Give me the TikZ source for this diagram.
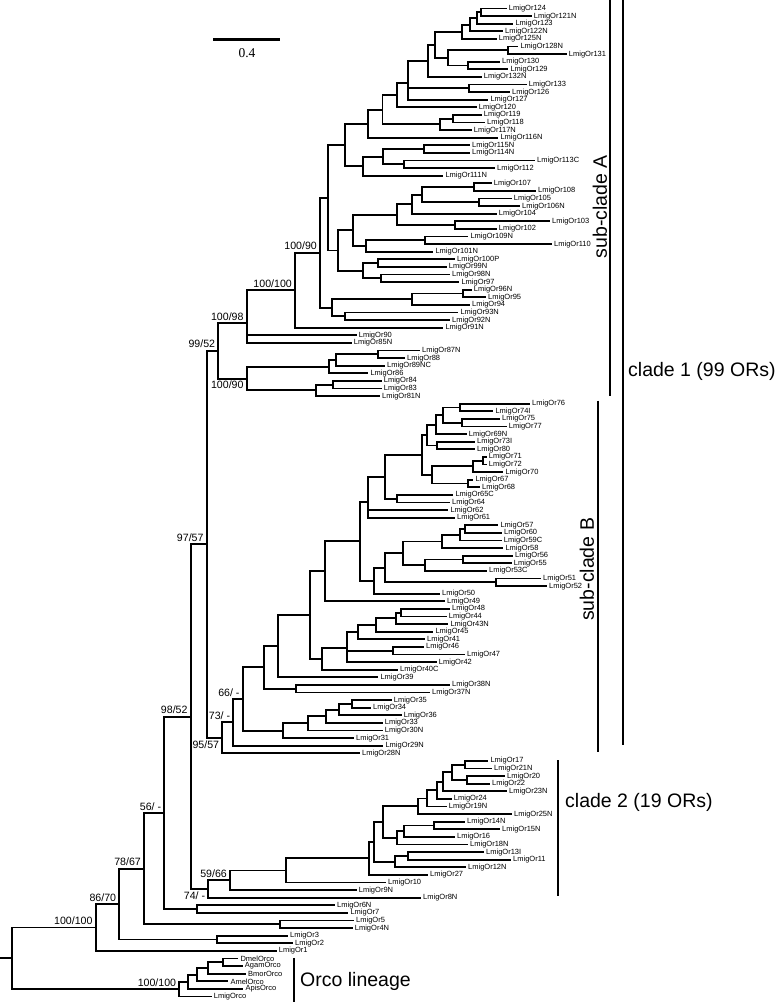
\documentclass[tikz,border=0pt]{standalone}
\usepackage{fontspec}
\setmainfont{Liberation Sans}
\newfontfamily\scalefont{Liberation Serif}
\newcommand{\leaffont}{\fontsize{7.5}{8}\selectfont}
\newcommand{\bsfont}{\fontsize{10.6}{11}\selectfont}
\newcommand{\cladefont}{\fontsize{19.5}{20}\selectfont}
% parent |- each child
\newcommand{\kids}[2]{\foreach \kid in {#2}{\draw[br] (#1) |- (\kid);}}

\begin{document}
\begin{tikzpicture}[
    x=1pt, y=-7.6pt,
    br/.style={line width=1.9pt},
    leaf/.style={anchor=west, inner xsep=2pt, inner ysep=0pt, font=\leaffont},
    bs/.style={font=\bsfont, inner sep=0pt},
    bsup/.style={bs, anchor=south east, xshift=-3pt, yshift=2.5pt},
    bsdown/.style={bs, anchor=north east, xshift=-3pt, yshift=-2.5pt},
    bar/.style={line width=2pt},
    cladelabel/.style={font=\cladefont, inner sep=0pt}
]
\useasboundingbox (0,-0.118) rectangle (777,131.72);

% leaves: x = tip of branch, y = row
\node[leaf] (or124) at (506.7,1) {LmigOr124};
\node[leaf] (or121N) at (531.7,2) {LmigOr121N};
\node[leaf] (or123) at (513.3,3) {LmigOr123};
\node[leaf] (or122N) at (503,4) {LmigOr122N};
\node[leaf] (or125N) at (496.7,5) {LmigOr125N};
\node[leaf] (or128N) at (518.3,6) {LmigOr128N};
\node[leaf] (or131) at (566.7,7) {LmigOr131};
\node[leaf] (or130) at (500,8) {LmigOr130};
\node[leaf] (or129) at (508.3,9) {LmigOr129};
\node[leaf] (or132N) at (481.7,10) {LmigOr132N};
\node[leaf] (or133) at (526.7,11) {LmigOr133};
\node[leaf] (or126) at (510,12) {LmigOr126};
\node[leaf] (or127) at (488.3,13) {LmigOr127};
\node[leaf] (or120) at (476.7,14) {LmigOr120};
\node[leaf] (or119) at (481.7,15) {LmigOr119};
\node[leaf] (or118) at (485,16) {LmigOr118};
\node[leaf] (or117N) at (471.7,17) {LmigOr117N};
\node[leaf] (or116N) at (498.3,18) {LmigOr116N};
\node[leaf] (or115N) at (470,19) {LmigOr115N};
\node[leaf] (or114N) at (470,20) {LmigOr114N};
\node[leaf] (or113C) at (535,21) {LmigOr113C};
\node[leaf] (or112) at (495,22) {LmigOr112};
\node[leaf] (or111N) at (443.3,23) {LmigOr111N};
\node[leaf] (or107) at (491.7,24) {LmigOr107};
\node[leaf] (or108) at (536,25) {LmigOr108};
\node[leaf] (or105) at (511.7,26) {LmigOr105};
\node[leaf] (or106N) at (520,27) {LmigOr106N};
\node[leaf] (or104) at (496.7,28) {LmigOr104};
\node[leaf] (or103) at (550,29) {LmigOr103};
\node[leaf] (or102) at (496.7,30) {LmigOr102};
\node[leaf] (or109N) at (468.3,31) {LmigOr109N};
\node[leaf] (or110) at (552,32) {LmigOr110};
\node[leaf] (or101N) at (433.3,33) {LmigOr101N};
\node[leaf] (or100P) at (455,34) {LmigOr100P};
\node[leaf] (or99N) at (446.7,35) {LmigOr99N};
\node[leaf] (or98N) at (450,36) {LmigOr98N};
\node[leaf] (or97) at (459.3,37) {LmigOr97};
\node[leaf] (or96N) at (471.7,38) {LmigOr96N};
\node[leaf] (or95) at (486,39) {LmigOr95};
\node[leaf] (or94) at (470,40) {LmigOr94};
\node[leaf] (or93N) at (458.3,41) {LmigOr93N};
\node[leaf] (or92N) at (450,42) {LmigOr92N};
\node[leaf] (or91N) at (443.3,43) {LmigOr91N};
\node[leaf] (or90) at (356.7,44) {LmigOr90};
\node[leaf] (or85N) at (351.7,45) {LmigOr85N};
\node[leaf] (or87N) at (420,46) {LmigOr87N};
\node[leaf] (or88) at (405,47) {LmigOr88};
\node[leaf] (or89NC) at (385,48) {LmigOr89NC};
\node[leaf] (or86) at (368.3,49) {LmigOr86};
\node[leaf] (or84) at (381.7,50) {LmigOr84};
\node[leaf] (or83) at (381.7,51) {LmigOr83};
\node[leaf] (or81N) at (380,52) {LmigOr81N};
\node[leaf] (or76) at (530,53) {LmigOr76};
\node[leaf] (or74I) at (493.3,54) {LmigOr74I};
\node[leaf] (or75) at (500,55) {LmigOr75};
\node[leaf] (or77) at (506.7,56) {LmigOr77};
\node[leaf] (or69N) at (466.7,57) {LmigOr69N};
\node[leaf] (or73I) at (475,58) {LmigOr73I};
\node[leaf] (or80) at (475,59) {LmigOr80};
\node[leaf] (or71) at (486.7,60) {LmigOr71};
\node[leaf] (or72) at (486.7,61) {LmigOr72};
\node[leaf] (or70) at (503.3,62) {LmigOr70};
\node[leaf] (or67) at (473.3,63) {LmigOr67};
\node[leaf] (or68) at (480,64) {LmigOr68};
\node[leaf] (or65C) at (453.3,65) {LmigOr65C};
\node[leaf] (or64) at (450,66) {LmigOr64};
\node[leaf] (or62) at (448.3,67) {LmigOr62};
\node[leaf] (or61) at (455,68) {LmigOr61};
\node[leaf] (or57) at (498.3,69) {LmigOr57};
\node[leaf] (or60) at (502,70) {LmigOr60};
\node[leaf] (or59C) at (501.7,71) {LmigOr59C};
\node[leaf] (or58) at (503.3,72) {LmigOr58};
\node[leaf] (or56) at (513,73) {LmigOr56};
\node[leaf] (or55) at (511.7,74) {LmigOr55};
\node[leaf] (or53C) at (487,75) {LmigOr53C};
\node[leaf] (or51) at (541,76) {LmigOr51};
\node[leaf] (or52) at (547,77) {LmigOr52};
\node[leaf] (or50) at (440,78) {LmigOr50};
\node[leaf] (or49) at (445,79) {LmigOr49};
\node[leaf] (or48) at (450,80) {LmigOr48};
\node[leaf] (or44) at (446.7,81) {LmigOr44};
\node[leaf] (or43N) at (448.3,82) {LmigOr43N};
\node[leaf] (or45) at (433.3,83) {LmigOr45};
\node[leaf] (or41) at (425,84) {LmigOr41};
\node[leaf] (or46) at (424,85) {LmigOr46};
\node[leaf] (or47) at (465,86) {LmigOr47};
\node[leaf] (or42) at (436.7,87) {LmigOr42};
\node[leaf] (or40C) at (398,88) {LmigOr40C};
\node[leaf] (or39) at (378.3,89) {LmigOr39};
\node[leaf] (or38N) at (450,90) {LmigOr38N};
\node[leaf] (or37N) at (430,91) {LmigOr37N};
\node[leaf] (or35) at (391.7,92) {LmigOr35};
\node[leaf] (or34) at (371,93) {LmigOr34};
\node[leaf] (or36) at (401.7,94) {LmigOr36};
\node[leaf] (or33) at (382.7,95) {LmigOr33};
\node[leaf] (or30N) at (382.7,96) {LmigOr30N};
\node[leaf] (or31) at (354,97) {LmigOr31};
\node[leaf] (or29N) at (383.3,98) {LmigOr29N};
\node[leaf] (or28N) at (360,99) {LmigOr28N};
\node[leaf] (or17) at (488.3,100) {LmigOr17};
\node[leaf] (or21N) at (492,101) {LmigOr21N};
\node[leaf] (or20) at (505,102) {LmigOr20};
\node[leaf] (or22) at (490,103) {LmigOr22};
\node[leaf] (or23N) at (507,104) {LmigOr23N};
\node[leaf] (or24) at (451.7,105) {LmigOr24};
\node[leaf] (or19N) at (446.7,106) {LmigOr19N};
\node[leaf] (or25N) at (512,107) {LmigOr25N};
\node[leaf] (or14N) at (465,108) {LmigOr14N};
\node[leaf] (or15N) at (500,109) {LmigOr15N};
\node[leaf] (or16) at (455,110) {LmigOr16};
\node[leaf] (or18N) at (468,111) {LmigOr18N};
\node[leaf] (or13I) at (484,112) {LmigOr13I};
\node[leaf] (or11) at (511,113) {LmigOr11};
\node[leaf] (or12N) at (466,114) {LmigOr12N};
\node[leaf] (or27) at (428,115) {LmigOr27};
\node[leaf] (or10) at (386,116) {LmigOr10};
\node[leaf] (or9N) at (356.7,117) {LmigOr9N};
\node[leaf] (or8N) at (421,118) {LmigOr8N};
\node[leaf] (or6N) at (335,119) {LmigOr6N};
\node[leaf] (or7) at (348.3,120) {LmigOr7};
\node[leaf] (or5) at (354,121) {LmigOr5};
\node[leaf] (or4N) at (352.7,122) {LmigOr4N};
\node[leaf] (or3) at (288,123) {LmigOr3};
\node[leaf] (or2) at (293,124) {LmigOr2};
\node[leaf] (or1) at (276.7,125) {LmigOr1};
\node[leaf] (dmel) at (238.3,126) {DmelOrco};
\node[leaf] (agam) at (242.7,127) {AgamOrco};
\node[leaf] (bmor) at (246,128) {BmorOrco};
\node[leaf] (amel) at (228.3,129) {AmelOrco};
\node[leaf] (apis) at (243.3,130) {ApisOrco};
\node[leaf] (lmigorco) at (211.7,131) {LmigOrco};

% inner nodes of sub-clade A
\coordinate (a1) at (481,1.5);
\coordinate (a2) at (476.7,2.25);
\coordinate (a3) at (470,3.13);
\coordinate (a4) at (461.7,4.06);
\coordinate (a5) at (508.3,6.5);
\coordinate (a6) at (468.3,8.5);
\coordinate (a7) at (448.3,7.5);
\coordinate (a8) at (435,5.78);
\coordinate (a9) at (428.3,7.89);
\coordinate (a10) at (469.3,11.5);
\coordinate (a11) at (407.7,10.8);
\coordinate (a12) at (397.3,12.4);
\coordinate (a15) at (453.3,15.5);
\coordinate (a14) at (440,16.25);
\coordinate (a13) at (382.5,14.33);
\coordinate (a16) at (368.3,16.16);
\coordinate (b2) at (424,19.5);
\coordinate (b3) at (404,21.5);
\coordinate (b4) at (382.7,20.5);
\coordinate (b1) at (362.7,21.75);
\coordinate (bB) at (345,18.96);
\coordinate (c1) at (474.3,24.5);
\coordinate (c2) at (479.3,26.5);
\coordinate (c3) at (421.7,25.5);
\coordinate (c4) at (411.7,26.75);
\coordinate (c5) at (455,29.5);
\coordinate (c6) at (396.7,28.13);
\coordinate (c7) at (425,31.5);
\coordinate (c8) at (366,32.25);
\coordinate (c9) at (353.3,30.19);
\coordinate (h1) at (378.3,34.5);
\coordinate (h2) at (381,36.5);
\coordinate (h3) at (363.3,35.5);
\coordinate (c10) at (338.3,32.84);
\coordinate (dD) at (328.3,25.9);
\coordinate (e1) at (462.7,38.5);
\coordinate (e2) at (412.3,39.25);
\coordinate (e3) at (345,41.5);
\coordinate (eE) at (331.7,40.38);
\coordinate (n10090) at (320,33.14);
\coordinate (n100100) at (295,38.07);
\coordinate (n10098) at (246.7,42.36);
\coordinate (w1) at (377.7,46.5);
\coordinate (w2) at (336,47.25);
\coordinate (w3) at (329.3,48.13);
\coordinate (w4) at (333.3,50.5);
\coordinate (w5) at (316,51.25);
\coordinate (n10090b) at (246.7,49.69);
\coordinate (n9952) at (218.3,46.02);

% inner nodes of sub-clade B
\coordinate (s1) at (460,53.5);
\coordinate (s2) at (461.7,55.5);
\coordinate (s3) at (443.3,54.5);
\coordinate (s4) at (436,55.75);
\coordinate (s5) at (436.7,58.5);
\coordinate (s6) at (426.7,57.13);
\coordinate (s7) at (482.7,60.5);
\coordinate (s8) at (472.7,61.25);
\coordinate (s9) at (468.3,63.5);
\coordinate (s10) at (431.7,62.38);
\coordinate (s11) at (421.7,59.75);
\coordinate (s12) at (396.7,65.5);
\coordinate (s13) at (385,62.63);
\coordinate (s14) at (368.3,65.88);
\coordinate (q1) at (465,69.5);
\coordinate (q2) at (460,70.25);
\coordinate (q3) at (441.7,71.13);
\coordinate (q4) at (463.3,73.5);
\coordinate (q5) at (425,74.25);
\coordinate (q6) at (403.3,72.69);
\coordinate (q7) at (496,76.5);
\coordinate (q8) at (385,74.59);
\coordinate (q9) at (374,76.3);
\coordinate (n360) at (360,71.09);
\coordinate (n325) at (325,75.04);
\coordinate (t1) at (401,80.5);
\coordinate (t2) at (395.7,81.25);
\coordinate (t3) at (375.7,82.13);
\coordinate (t4) at (358.3,83.06);
\coordinate (t5) at (393.3,85.5);
\coordinate (t6) at (346.7,85.19);
\coordinate (t7) at (321.7,86.6);
\coordinate (n310) at (310,80.82);
\coordinate (n278) at (278.3,84.91);
\coordinate (u1) at (295.7,90.5);
\coordinate (n265) at (264.3,87.7);
\coordinate (v1) at (351.7,92.5);
\coordinate (v2) at (339.3,93.25);
\coordinate (v3) at (326,94.13);
\coordinate (v4) at (308.3,95.06);
\coordinate (v5) at (283.3,96.03);
\coordinate (n66) at (242.7,91.87);
\coordinate (n73) at (233.3,94.93);
\coordinate (n9557) at (222.3,96.97);
\coordinate (n9757) at (206.7,71.5);

% inner nodes of clade 2 and the base
\coordinate (k1) at (465,100.5);
\coordinate (k2) at (466.7,102.5);
\coordinate (k3) at (451.7,101.5);
\coordinate (k4) at (442.7,102.75);
\coordinate (k5) at (437.3,103.88);
\coordinate (k6) at (426.7,104.94);
\coordinate (k7) at (418.3,105.97);
\coordinate (k8) at (434.3,108.5);
\coordinate (k9) at (404,109.25);
\coordinate (k10) at (396.7,110.13);
\coordinate (k11) at (383.3,108.05);
\coordinate (k12) at (408.3,112.5);
\coordinate (k13) at (395,113.25);
\coordinate (k14) at (374,110.65);
\coordinate (k15) at (369.3,112.83);
\coordinate (k16) at (285.7,114.41);
\coordinate (n5966) at (230,115.71);
\coordinate (n74) at (208.3,116.85);
\coordinate (n9852) at (190.7,94.18);
\coordinate (m1) at (196.7,119.5);
\coordinate (n56) at (164.3,106.84);
\coordinate (m2) at (280,121.5);
\coordinate (n7867) at (144,114.17);
\coordinate (m3) at (217.3,123.5);
\coordinate (n8670) at (119.3,118.84);
\coordinate (n100r) at (95.7,121.92);
\coordinate (o1) at (222.7,126.5);
\coordinate (o2) at (208.3,127.25);
\coordinate (o3) at (196.7,128.13);
\coordinate (o4) at (188.3,129.06);
\coordinate (o5) at (179.3,130.03);
\coordinate (root) at (11.7,125.98);
\coordinate (rootin) at (0,125.98);

% branches
\kids{a1}{or124,or121N}
\kids{a2}{a1,or123}
\kids{a3}{a2,or122N}
\kids{a4}{a3,or125N}
\kids{a5}{or128N,or131}
\kids{a6}{or130,or129}
\kids{a7}{a5,a6}
\kids{a8}{a4,a7}
\kids{a9}{a8,or132N}
\kids{a10}{or133,or126}
\kids{a11}{a9,a10,or127}
\kids{a12}{a11,or120}
\kids{a15}{or119,or118}
\kids{a14}{a15,or117N}
\kids{a13}{a12,a14}
\kids{a16}{a13,or116N}
\kids{b2}{or115N,or114N}
\kids{b3}{or113C,or112}
\kids{b4}{b2,b3}
\kids{b1}{b4,or111N}
\kids{bB}{a16,b1}
\kids{c1}{or107,or108}
\kids{c2}{or105,or106N}
\kids{c3}{c1,c2}
\kids{c4}{c3,or104}
\kids{c5}{or103,or102}
\kids{c6}{c4,c5}
\kids{c7}{or109N,or110}
\kids{c8}{c7,or101N}
\kids{c9}{c6,c8}
\kids{h1}{or100P,or99N}
\kids{h2}{or98N,or97}
\kids{h3}{h1,h2}
\kids{c10}{c9,h3}
\kids{dD}{bB,c10}
\kids{e1}{or96N,or95}
\kids{e2}{e1,or94}
\kids{e3}{or93N,or92N}
\kids{eE}{e2,e3}
\kids{n10090}{dD,eE}
\kids{n100100}{n10090,or91N}
\kids{n10098}{n100100,or90,or85N}
\kids{w1}{or87N,or88}
\kids{w2}{w1,or89NC}
\kids{w3}{w2,or86}
\kids{w4}{or84,or83}
\kids{w5}{w4,or81N}
\kids{n10090b}{w3,w5}
\kids{n9952}{n10098,n10090b}
\kids{s1}{or76,or74I}
\kids{s2}{or75,or77}
\kids{s3}{s1,s2}
\kids{s4}{s3,or69N}
\kids{s5}{or73I,or80}
\kids{s6}{s4,s5}
\kids{s7}{or71,or72}
\kids{s8}{s7,or70}
\kids{s9}{or67,or68}
\kids{s10}{s8,s9}
\kids{s11}{s6,s10}
\kids{s12}{or65C,or64}
\kids{s13}{s11,s12}
\kids{s14}{s13,or62,or61}
\kids{q1}{or57,or60}
\kids{q2}{q1,or59C}
\kids{q3}{q2,or58}
\kids{q4}{or56,or55}
\kids{q5}{q4,or53C}
\kids{q6}{q3,q5}
\kids{q7}{or51,or52}
\kids{q8}{q6,q7}
\kids{q9}{q8,or50}
\kids{n360}{s14,q9}
\kids{n325}{n360,or49}
\kids{t1}{or48,or44}
\kids{t2}{t1,or43N}
\kids{t3}{t2,or45}
\kids{t4}{t3,or41}
\kids{t5}{or46,or47}
\kids{t6}{t4,t5,or42}
\kids{t7}{t6,or40C}
\kids{n310}{n325,t7}
\kids{n278}{n310,or39}
\kids{u1}{or38N,or37N}
\kids{n265}{n278,u1}
\kids{v1}{or35,or34}
\kids{v2}{v1,or36}
\kids{v3}{v2,or33}
\kids{v4}{v3,or30N}
\kids{v5}{v4,or31}
\kids{n66}{n265,v5}
\kids{n73}{n66,or29N}
\kids{n9557}{n73,or28N}
\kids{n9757}{n9952,n9557}
\kids{k1}{or17,or21N}
\kids{k2}{or20,or22}
\kids{k3}{k1,k2}
\kids{k4}{k3,or23N}
\kids{k5}{k4,or24}
\kids{k6}{k5,or19N}
\kids{k7}{k6,or25N}
\kids{k8}{or14N,or15N}
\kids{k9}{k8,or16}
\kids{k10}{k9,or18N}
\kids{k11}{k7,k10}
\kids{k12}{or13I,or11}
\kids{k13}{k12,or12N}
\kids{k14}{k11,k13}
\kids{k15}{k14,or27}
\kids{k16}{k15,or10}
\kids{n5966}{k16,or9N}
\kids{n74}{n5966,or8N}
\kids{n9852}{n9757,n74}
\kids{m1}{or6N,or7}
\kids{n56}{n9852,m1}
\kids{m2}{or5,or4N}
\kids{n7867}{n56,m2}
\kids{m3}{or3,or2}
\kids{n8670}{n7867,m3}
\kids{n100r}{n8670,or1}
\kids{o1}{dmel,agam}
\kids{o2}{o1,bmor}
\kids{o3}{o2,amel}
\kids{o4}{o3,apis}
\kids{o5}{o4,lmigorco}
\kids{root}{n100r,o5}
\draw[br] (rootin) -- (root);

% support values
\node[bsup] (l100r) at (n100r) {100/100};
\node[bsup] (l8670) at (n8670) {86/70};
\node[bsup] (l7867) at (n7867) {78/67};
\node[bsup] (l56) at (n56) {56/ -};
\node[bsup] (l9852) at (n9852) {98/52};
\node[bsup] (l9757) at (n9757) {97/57};
\node[bsup] (l9952) at (n9952) {99/52};
\node[bsup] (l10098) at (n10098) {100/98};
\node[bsup] (l10090) at (n10090) {100/90};
\node[bsup] (l100100) at (n100100) {100/100};
\node[bsdown] (l10090b) at (n10090b) {100/90};
\node[bsup] (l66) at (n66) {66/ -};
\node[bsup] (l73) at (n73) {73/ -};
\node[bsdown] (l9557) at (n9557) {95/57};
\node[bsup] (l5966) at (n5966) {59/66};
\node[bsdown] (l74) at (n74) {74/ -};
\node[bsup] (lorco) at (o5) {100/100};

% scale bar
\coordinate (sbl) at (213,5.14);
\coordinate (sbr) at (280,5.14);
\draw[line width=3pt] (sbl) -- (sbr);
\node[font=\scalefont\fontsize{13.5}{14}\selectfont, inner sep=0pt] (sblab) at (247,6.86) {0.4};

% clade bars and names
\coordinate (subAtop) at (610,-0.118);
\coordinate (subAbot) at (610,52);
\coordinate (subBtop) at (598,52.6);
\coordinate (subBbot) at (598,98.8);
\coordinate (cl1top) at (623,-0.118);
\coordinate (cl1bot) at (623,97.9);
\coordinate (cl2top) at (558,99.9);
\coordinate (cl2bot) at (558,117.8);
\coordinate (orcotop) at (294.3,125.9);
\coordinate (orcobot) at (294.3,131.72);
\draw[bar] (subAtop) -- (subAbot);
\draw[bar] (subBtop) -- (subBbot);
\draw[bar] (cl1top) -- (cl1bot);
\draw[bar] (cl2top) -- (cl2bot);
\draw[bar] (orcotop) -- (orcobot);
\node[cladelabel, rotate=90] (subAlab) at (600,27.1) {sub-clade A};
\node[cladelabel, rotate=90] (subBlab) at (587,74.8) {sub-clade B};
\node[cladelabel, anchor=west] (cl1lab) at (628,48.8) {clade 1 (99 ORs)};
\node[cladelabel, anchor=west] (cl2lab) at (565,105.4) {clade 2 (19 ORs)};
\node[cladelabel, anchor=west] (orcolab) at (300,129.05) {Orco lineage};

\end{tikzpicture}
\end{document}
